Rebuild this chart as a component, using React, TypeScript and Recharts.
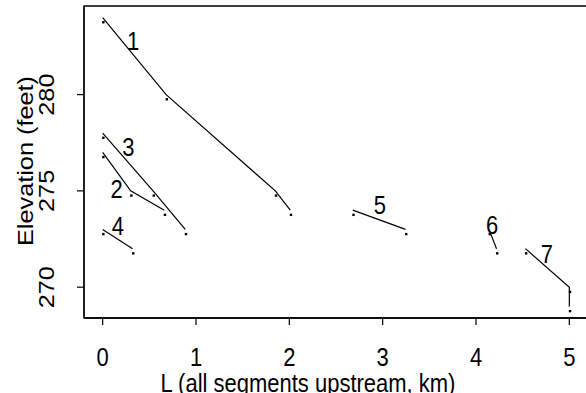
import { ComposedChart, ReferenceArea, Scatter, XAxis, YAxis } from "recharts";

// River segment profiles: distance upstream (km) vs elevation (feet)
const seg1 = [
  { x: 0, y: 284 },
  { x: 0.68, y: 280 },
  { x: 1.85, y: 275 },
  { x: 2.01, y: 274 },
];
const seg2 = [
  { x: 0, y: 277 },
  { x: 0.3, y: 275 },
  { x: 0.66, y: 274 },
];
const seg3 = [
  { x: 0, y: 278 },
  { x: 0.54, y: 275 },
  { x: 0.885, y: 273 },
];
const seg4 = [
  { x: 0, y: 273 },
  { x: 0.32, y: 272 },
];
const seg5 = [
  { x: 2.68, y: 274 },
  { x: 3.245, y: 273 },
];
const seg6 = [
  { x: 4.14, y: 273 },
  { x: 4.22, y: 272 },
];
const seg7 = [
  { x: 4.53, y: 272 },
  { x: 5, y: 270 },
  { x: 5, y: 269 },
];
const segments = [seg1, seg2, seg3, seg4, seg5, seg6, seg7];

const segLabels = [
  { x: 0.325, y: 282.77, label: "1" },
  { x: 0.15, y: 275.1, label: "2" },
  { x: 0.275, y: 277.31, label: "3" },
  { x: 0.164, y: 273.2, label: "4" },
  { x: 2.969, y: 274.28, label: "5" },
  { x: 4.173, y: 273.24, label: "6" },
  { x: 4.759, y: 271.75, label: "7" },
];

const xTicks = [0, 1, 2, 3, 4, 5];
const yTicks = [270, 275, 280];
const xDomain = [-0.2, 5.2];
const yDomain = [268.4, 284.6];

const FONT = "'Liberation Sans', Arial, sans-serif";
const FS = 22;
const K = 1.15; // the picture is stretched a bit vertically
const PLOT_LEFT = 84;
const PLOT_BOTTOM = 318;

// text with the vertical stretch; rot turns it to read bottom-to-top
function T({ x, y, rot, dy, children }: any) {
  const tr = `translate(${x},${y}) scale(1,${K})${rot ? " rotate(-90)" : ""}`;
  return (
    <text x={0} y={0} dy={dy} transform={tr} textAnchor="middle" fontSize={FS} fontFamily={FONT} fill="#000">
      {children}
    </text>
  );
}

function Dot(props: any) {
  const { cx, cy } = props;
  if (cx == null || cy == null) return null;
  // "." glyph sits on the baseline, a bit under the vertex
  return <rect x={cx - 0.5} y={cy + 3.5} width={2.4} height={2.4} fill="#000" />;
}

function SegLabel(props: any) {
  const { cx, cy, payload } = props;
  return (
    <T x={cx} y={cy} dy={FS * 0.36}>
      {payload.label}
    </T>
  );
}

function XTick(props: any) {
  const { x, payload } = props;
  return (
    <g>
      <line x1={x} x2={x} y1={PLOT_BOTTOM} y2={PLOT_BOTTOM + 7} stroke="#000" strokeWidth={1.2} />
      <T x={x} y={365.5}>
        {payload.value}
      </T>
    </g>
  );
}

function YTick(props: any) {
  const { y, payload } = props;
  return (
    <g>
      <line x1={PLOT_LEFT - 7} x2={PLOT_LEFT} y1={y} y2={y} stroke="#000" strokeWidth={1.2} />
      <T x={54} y={y} rot>
        {payload.value}
      </T>
    </g>
  );
}

export default function App() {
  return (
    <div style={{ position: "absolute", left: 0, top: 0, width: 586, height: 393, overflow: "hidden", background: "#fff" }}>
      <ComposedChart width={600} height={393} margin={{ top: 6, right: 12, bottom: 0, left: 0 }}>
        <XAxis
          type="number"
          dataKey="x"
          domain={xDomain}
          ticks={xTicks}
          height={75}
          axisLine={{ stroke: "#000", strokeWidth: 1.3 }}
          tickLine={false}
          tick={<XTick />}
          label={{
            content: () => (
              <T x={308} y={391.5}>
                L (all segments upstream, km)
              </T>
            ),
          }}
        />
        <YAxis
          type="number"
          dataKey="y"
          domain={yDomain}
          ticks={yTicks}
          width={PLOT_LEFT}
          axisLine={{ stroke: "#000", strokeWidth: 1.3 }}
          tickLine={false}
          tick={<YTick />}
          label={{
            content: () => (
              <T x={33} y={161} rot>
                Elevation (feet)
              </T>
            ),
          }}
        />
        <ReferenceArea
          x1={xDomain[0]}
          x2={xDomain[1]}
          y1={yDomain[0]}
          y2={yDomain[1]}
          fill="none"
          stroke="#000"
          strokeWidth={1.3}
          ifOverflow="visible"
        />
        {segments.map((seg, i) => (
          <Scatter
            key={i}
            data={seg}
            line={{ stroke: "#000", strokeWidth: 1.2 }}
            lineType="joint"
            shape={<Dot />}
            isAnimationActive={false}
          />
        ))}
        <Scatter data={segLabels} shape={<SegLabel />} isAnimationActive={false} />
      </ComposedChart>
    </div>
  );
}
